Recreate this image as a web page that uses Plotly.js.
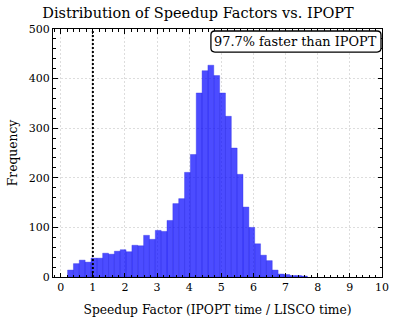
<!DOCTYPE html>
<html><head><meta charset="utf-8">
<script src="https://cdn.plot.ly/plotly-3.0.1.min.js"></script>
<style>html,body{margin:0;padding:0;background:#fff;}#chart{width:396px;height:324px;}</style>
</head><body><div id="chart"></div>
<script>
// Histogram bins (speedup factor) and counts
const binStart = 0.214;
const binWidth = 0.182;
const counts = [14, 27, 34, 30, 38, 38, 48, 46, 52, 55,
                51, 64, 63, 84, 76, 94, 92, 114, 148, 158,
                211, 247, 371, 416, 427, 406, 371, 324, 260, 207,
                141, 100, 67, 44, 33, 14, 6, 5, 3, 3, 2];
const refSpeedup = 1;
const xTicks = [0,1,2,3,4,5,6,7,8,9,10];
const yTicks = [0,100,200,300,400,500];
const titleText = 'Distribution of Speedup Factors vs. IPOPT';
const xTitle = 'Speedup Factor (IPOPT time / LISCO time)';
const yTitle = 'Frequency';
const boxText = '97.7% faster than IPOPT';

const centers = counts.map((c, i) => binStart + (i + 0.5) * binWidth);
const FONT = 'DejaVu Serif, Liberation Serif, serif';

const trace = {
  type: 'bar', x: centers, y: counts, width: binWidth,
  marker: {color: 'rgba(0,0,255,0.7)', line: {width: 0.4, color: 'rgba(40,40,230,0.9)'}},
  hoverinfo: 'skip'
};

const axisCommon = {
  showline: true, linecolor: '#000', linewidth: 1, mirror: 'allticks',
  ticks: 'inside', ticklen: 4.5, tickwidth: 1, tickcolor: '#000',
  showgrid: true, gridcolor: '#cfcfcf', gridwidth: 0.7, griddash: '2px,2px',
  zeroline: false, tickfont: {family: FONT, size: 11, color: '#000'}
};

// rounded box geometry (paper units)
const bx0 = 0.480, bx1 = 0.997, by0 = 0.907, by1 = 0.992, rx = 0.012, ry = 0.016;
const boxPath = `M ${bx0+rx},${by1} L ${bx1-rx},${by1} Q ${bx1},${by1} ${bx1},${by1-ry} L ${bx1},${by0+ry} Q ${bx1},${by0} ${bx1-rx},${by0} L ${bx0+rx},${by0} Q ${bx0},${by0} ${bx0},${by0+ry} L ${bx0},${by1-ry} Q ${bx0},${by1} ${bx0+rx},${by1} Z`;

const layout = {
  width: 396, height: 324,
  margin: {l: 53, r: 14, t: 29, b: 47},
  paper_bgcolor: '#fff', plot_bgcolor: '#fff',
  bargap: 0, showlegend: false,
  font: {family: FONT, color: '#000'},
  title: {text: titleText, font: {family: FONT, size: 14.5, color: '#000'}, x: 0.5, xref: 'container', xanchor: 'center', y: 0.96, yanchor: 'middle'},
  xaxis: Object.assign({}, axisCommon, {
    range: [-0.24, 10], tickvals: xTicks, ticktext: xTicks.map(String),
    minor: {ticks: 'inside', dtick: 0.2, tick0: 0, ticklen: 2.5, tickcolor: '#000', showgrid: false},
    title: {text: xTitle, font: {family: FONT, size: 12.3, color: '#000'}, standoff: 12}
  }),
  yaxis: Object.assign({}, axisCommon, {
    range: [0, 500], tickvals: yTicks, ticktext: yTicks.map(String),
    minor: {ticks: 'inside', dtick: 20, tick0: 0, ticklen: 2.5, tickcolor: '#000', showgrid: false},
    title: {text: yTitle, font: {family: FONT, size: 12.3, color: '#000'}, standoff: 8}
  }),
  shapes: [{
    type: 'line', xref: 'x', yref: 'paper', x0: refSpeedup, x1: refSpeedup, y0: 0, y1: 1,
    line: {color: '#000', width: 2, dash: '2px,2px'}
  }, {
    type: 'path', xref: 'paper', yref: 'paper', path: boxPath,
    fillcolor: '#fff', line: {color: '#000', width: 1.3}, layer: 'above'
  }],
  annotations: [{
    xref: 'paper', yref: 'paper', x: (bx0 + bx1) / 2, y: (by0 + by1) / 2,
    xanchor: 'center', yanchor: 'middle', text: boxText, showarrow: false,
    font: {family: FONT, size: 12.9, color: '#000'}
  }]
};

Plotly.newPlot('chart', [trace], layout, {displayModeBar: false, staticPlot: true});
</script>
</body></html>
